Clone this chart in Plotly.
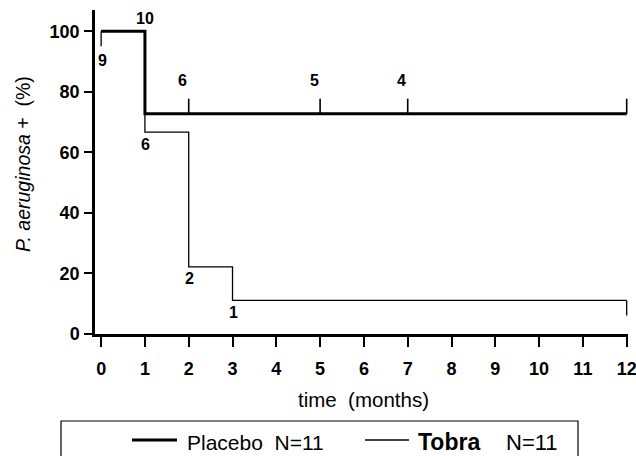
import plotly.graph_objects as go

# ---- data ----
placebo_times = [0, 1, 12]
placebo_pct = [100, 72.7, 72.7]
tobra_times = [0, 1, 2, 3, 12]
tobra_pct = [100, 66.7, 22.2, 11.1, 11.1]

placebo_censor = [2, 5, 7, 12]
tobra_censor = [0, 12]

placebo_risk_times = [1, 2, 5, 7]
placebo_risk = [10, 6, 5, 4]
tobra_risk_times = [0, 1, 2, 3]
tobra_risk = [9, 6, 2, 1]

x_ticks = list(range(0, 13))
y_ticks = [0, 20, 40, 60, 80, 100]

# ---- layout constants (page pixels) ----
W, H = 636, 456
L, R, T, B = 95, 628, 10, 334
FONT = "Liberation Sans, Arial, Helvetica, sans-serif"


def px(xp):
    return (xp - L) / (R - L)


def py(yp):
    return (B - yp) / (B - T)


def step_value(times, vals, t, before=False):
    v = vals[0]
    for ti, vi in zip(times, vals):
        if ti < t or (ti == t and not before):
            v = vi
    return v


fig = go.Figure()

# Tobra curve (thin)
fig.add_trace(go.Scatter(x=tobra_times, y=tobra_pct, mode="lines", line_shape="hv",
                         line=dict(color="black", width=1.3), name="Tobra", showlegend=False,
                         cliponaxis=False))
# Placebo curve (thick)
fig.add_trace(go.Scatter(x=placebo_times, y=placebo_pct, mode="lines", line_shape="hv",
                         line=dict(color="black", width=3), name="Placebo", showlegend=False,
                         cliponaxis=False))

# censor ticks
tick_len = 5
cx, cy = [], []
for t in placebo_censor:
    v = step_value(placebo_times, placebo_pct, t)
    cx += [t, t, None]
    cy += [v, v + tick_len, None]
fig.add_trace(go.Scatter(x=cx, y=cy, mode="lines", line=dict(color="black", width=1.6),
                         showlegend=False, hoverinfo="skip", cliponaxis=False))
cx, cy = [], []
for t in tobra_censor:
    v = step_value(tobra_times, tobra_pct, t)
    cx += [t, t, None]
    cy += [v, v - tick_len, None]
fig.add_trace(go.Scatter(x=cx, y=cy, mode="lines", line=dict(color="black", width=1.3),
                         showlegend=False, hoverinfo="skip", cliponaxis=False))

annotations = []
# numbers at risk
for t, n in zip(placebo_risk_times, placebo_risk):
    if t in placebo_censor:
        v = step_value(placebo_times, placebo_pct, t)
        ys, xs = 33, -6
    else:
        v = step_value(placebo_times, placebo_pct, t, before=True)
        ys, xs = 13, 0
    annotations.append(dict(x=t, y=v, xref="x", yref="y", text=f"<b>{n}</b>", showarrow=False,
                            xanchor="center", yanchor="middle",
                            xshift=xs, yshift=ys, font=dict(family=FONT, size=16, color="black")))
for t, n in zip(tobra_risk_times, tobra_risk):
    v = step_value(tobra_times, tobra_pct, t)
    if t in tobra_censor:
        ys, xs = -29, 1
    else:
        ys, xs = -12, 1
    annotations.append(dict(x=t, y=v, xref="x", yref="y", text=f"<b>{n}</b>", showarrow=False,
                            xanchor="center", yanchor="middle",
                            xshift=xs, yshift=ys, font=dict(family=FONT, size=16, color="black")))

# axis titles
annotations.append(dict(x=px(23), y=py(164), xref="paper", yref="paper", textangle=-90,
                        xanchor="center", yanchor="middle",
                        text="<i>P. aeruginosa</i> +  (%)", showarrow=False,
                        font=dict(family=FONT, size=19.5, color="black")))
annotations.append(dict(x=px(363), y=py(399), xref="paper", yref="paper",
                        xanchor="center", yanchor="middle",
                        text="time  (months)", showarrow=False,
                        font=dict(family=FONT, size=20.5, color="black")))

# legend (custom box)
shapes = [
    dict(type="rect", xref="paper", yref="paper", x0=px(61), x1=px(578), y0=py(470), y1=py(421),
         line=dict(color="black", width=1.2), fillcolor="rgba(0,0,0,0)"),
    dict(type="line", xref="paper", yref="paper", x0=px(132), x1=px(177), y0=py(440), y1=py(440),
         line=dict(color="black", width=3)),
    dict(type="line", xref="paper", yref="paper", x0=px(365), x1=px(409), y0=py(440), y1=py(440),
         line=dict(color="black", width=1.3)),
]
annotations.append(dict(x=px(185), y=py(442), xref="paper", yref="paper",
                        xanchor="left", yanchor="middle",
                        text="Placebo  N=11", showarrow=False,
                        font=dict(family=FONT, size=21, color="black")))
annotations.append(dict(x=px(416), y=py(442), xref="paper", yref="paper",
                        xanchor="left", yanchor="middle",
                        text="<b>Tobra</b>", showarrow=False,
                        font=dict(family=FONT, size=23, color="black")))
annotations.append(dict(x=px(504), y=py(442), xref="paper", yref="paper",
                        xanchor="left", yanchor="middle",
                        text="N=11", showarrow=False,
                        font=dict(family=FONT, size=22, color="black")))

fig.update_layout(
    width=W, height=H,
    margin=dict(l=L, r=W - R, t=T, b=H - B, autoexpand=False),
    paper_bgcolor="white", plot_bgcolor="white",
    showlegend=False,
    font=dict(family=FONT, color="black"),
    annotations=annotations, shapes=shapes,
    xaxis=dict(range=[-0.14, 12.03], tickvals=x_ticks, ticktext=[f"<b>{v}</b>" for v in x_ticks],
               automargin=False, ticklabeloverflow="allow", ticklabelstandoff=7,
               showgrid=False, zeroline=False, showline=True, linecolor="black", linewidth=2.5,
               ticks="outside", ticklen=10, tickwidth=1.5, tickcolor="black",
               tickfont=dict(family=FONT, size=18, color="black")),
    yaxis=dict(range=[0, 107], tickvals=y_ticks, ticktext=[f"<b>{v}</b>" for v in y_ticks],
               automargin=False, ticklabeloverflow="allow", ticklabelstandoff=1,
               showgrid=False, zeroline=False, showline=True, linecolor="black", linewidth=2.5,
               ticks="outside", ticklen=8, tickwidth=1.5, tickcolor="black",
               tickfont=dict(family=FONT, size=18, color="black")),
)

# remove the default page margin so the 636x456 figure fills the window exactly
fig.write_html("out.html", config={"displayModeBar": False},
               post_script="document.body.style.margin='0';document.body.style.overflow='hidden';")
